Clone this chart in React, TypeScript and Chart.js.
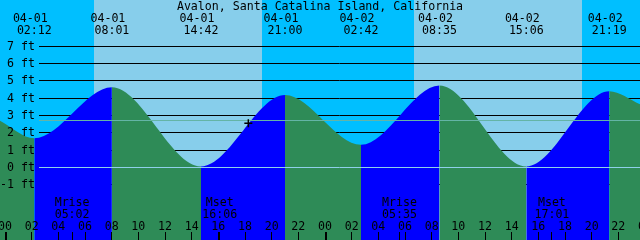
import React, { useEffect, useRef } from "react";
import { Chart, registerables } from "chart.js";

Chart.register(...registerables);

// ---------- data ----------
const TITLE = "Avalon, Santa Catalina Island, California";
const dayOffset: Record<string, number> = { "04-01": 0, "04-02": 24 };

const tideDates = ["04-01", "04-01", "04-01", "04-01", "04-02", "04-02", "04-02", "04-02"];
const tideClock = ["02:12", "08:01", "14:42", "21:00", "02:42", "08:35", "15:06", "21:19"];
const tideHeights = [1.68, 4.63, 0.05, 4.18, 1.3, 4.73, 0.05, 4.4];

// curve height at the left and right edges of the view (hours from 04-01 00:00)
const edgeHours = [-0.375, 47.625];
const edgeHeights = [2.7, 3.65];

const sunDates = ["04-01", "04-01", "04-02", "04-02"];
const sunClock = ["06:40", "19:17", "06:39", "19:17"];
const sunKinds = ["rise", "set", "rise", "set"];

const moonDates = ["04-01", "04-01", "04-02", "04-02"];
const moonClock = ["05:02", "16:06", "05:35", "17:01"];
const moonNames = ["Mrise", "Mset", "Mrise", "Mset"];

const markHours = [18.25];
const markHeights = [2.55];

const yTickValues = [7, 6, 5, 4, 3, 2, 1, 0, -1];
const yTickLabels = ["7 ft", "6 ft", "5 ft", "4 ft", "3 ft", "2 ft", "1 ft", "0 ft", "-1 ft"];
const datumLevel = 0;
const mslLevel = 2.7;

const hourTickValues = [0, 2, 4, 6, 8, 10, 12, 14, 16, 18, 20, 22, 24, 26, 28, 30, 32, 34, 36, 38, 40, 42, 44, 46, 48];
const hourTickLabels = ["00", "02", "04", "06", "08", "10", "12", "14", "16", "18", "20", "22", "00", "02", "04", "06", "08", "10", "12", "14", "16", "18", "20", "22", "00"];
const midnightHours = [0, 24, 48];

// ---------- styles ----------
const NIGHT = "#00BFFF";
const DAY = "#87CEEB";
const FLOOD = "#0000FF";
const EBB = "#2E8B57";
const DATUM_COLOR = "#8FD0EA";
const MSL_COLOR = "#64B4A6";
const FONT = '11.6px "DejaVu Sans Mono", monospace';

const toHours = (d: string, c: string) =>
  dayOffset[d] + parseInt(c.slice(0, 2), 10) + parseInt(c.slice(3, 5), 10) / 60;

const xtidePlugin = {
  id: "xtide",
  beforeDatasetsDraw(chart: any) {
    const { ctx, chartArea: a } = chart;
    const x = chart.scales.x;
    const y = chart.scales.y;
    const sunH = sunDates.map((d, i) => toHours(d, sunClock[i]));
    const edges = [x.min, ...sunH, x.max];
    ctx.save();
    for (let i = 0; i < edges.length - 1; i++) {
      let isDay: boolean;
      if (i === 0) isDay = sunKinds[0] !== "rise";
      else isDay = sunKinds[i - 1] === "rise";
      ctx.fillStyle = isDay ? DAY : NIGHT;
      const p0 = Math.round(x.getPixelForValue(edges[i]));
      const p1 = Math.round(x.getPixelForValue(edges[i + 1]));
      ctx.fillRect(p0, a.top, p1 - p0, a.bottom - a.top);
    }
    ctx.strokeStyle = "#000";
    ctx.lineWidth = 1;
    for (const v of yTickValues) {
      const py = Math.floor(y.getPixelForValue(v)) + 0.5;
      ctx.beginPath();
      ctx.moveTo(39, py);
      ctx.lineTo(a.right, py);
      ctx.stroke();
    }
    ctx.restore();
  },
  afterDatasetDraw(chart: any, args: any) {
    if (args.index !== 0) return;
    const { ctx, chartArea: a } = chart;
    const y = chart.scales.y;
    ctx.save();
    ctx.lineWidth = 1;
    const lines: [number, string][] = [
      [datumLevel, DATUM_COLOR],
      [mslLevel, MSL_COLOR],
    ];
    for (const [v, c] of lines) {
      const py = Math.floor(y.getPixelForValue(v)) + 0.5;
      ctx.strokeStyle = c;
      ctx.beginPath();
      ctx.moveTo(39, py);
      ctx.lineTo(a.right, py);
      ctx.stroke();
    }
    ctx.restore();
  },
  afterDraw(chart: any) {
    const { ctx, chartArea: a } = chart;
    const x = chart.scales.x;
    const y = chart.scales.y;
    ctx.save();
    ctx.font = FONT;
    ctx.fillStyle = "#000";
    ctx.textBaseline = "alphabetic";

    // title
    ctx.textAlign = "center";
    ctx.fillText(TITLE, (a.left + a.right) / 2, 10);

    // tide event labels
    tideDates.forEach((d, i) => {
      const px = x.getPixelForValue(toHours(d, tideClock[i]));
      ctx.fillText(d, px - 4, 22);
      ctx.fillText(tideClock[i], px, 34);
    });

    // y labels
    ctx.textAlign = "right";
    yTickValues.forEach((v, i) => {
      const py = Math.floor(y.getPixelForValue(v));
      ctx.fillText(yTickLabels[i], 35, py + 4);
    });

    // hour labels and ticks
    ctx.textAlign = "center";
    hourTickValues.forEach((h, i) => {
      const px = x.getPixelForValue(h);
      ctx.fillText(hourTickLabels[i], px, 230);
      ctx.fillRect(Math.floor(px), 232, 1, a.bottom - 232);
    });
    midnightHours.forEach((h) => {
      const px = Math.round(x.getPixelForValue(h));
      ctx.fillRect(px, 232, 2, a.bottom - 232);
    });

    // moon events
    moonDates.forEach((d, i) => {
      const px = x.getPixelForValue(toHours(d, moonClock[i]));
      ctx.fillText(moonNames[i], px, 206);
      ctx.fillText(moonClock[i], px, 218);
      ctx.fillRect(Math.floor(px), 232, 1, a.bottom - 232);
    });
    ctx.restore();
  },
};

export default function App() {
  const ref = useRef<HTMLCanvasElement | null>(null);

  useEffect(() => {
    document.body.style.margin = "0";
    document.body.style.overflow = "hidden";
    const canvas = ref.current;
    if (!canvas) return;

    const tidePoints = [
      { x: edgeHours[0], y: edgeHeights[0] },
      ...tideDates.map((d, i) => ({ x: toHours(d, tideClock[i]), y: tideHeights[i] })),
      { x: edgeHours[1], y: edgeHeights[1] },
    ];
    const markPoints = markHours.map((h, i) => ({ x: h, y: markHeights[i] }));

    const pxPerFt = 121 / 7;
    const yMax = 167.3 / pxPerFt;
    const yMin = yMax - 240 / pxPerFt;

    const chart = new Chart(canvas, {
      type: "line",
      data: {
        datasets: [
          {
            data: tidePoints,
            order: 2,
            fill: "start",
            borderWidth: 0,
            borderColor: "rgba(0,0,0,0)",
            backgroundColor: EBB,
            pointRadius: 0,
            cubicInterpolationMode: "monotone",
            segment: {
              backgroundColor: (c: any) => (c.p1.parsed.y > c.p0.parsed.y ? FLOOD : EBB),
            },
          } as any,
          {
            data: markPoints,
            order: 1,
            showLine: false,
            pointStyle: "cross",
            pointRadius: 4,
            pointBorderWidth: 1.5,
            pointBorderColor: "#000",
            pointBackgroundColor: "#000",
          } as any,
        ],
      },
      options: {
        responsive: false,
        animation: false,
        devicePixelRatio: 1,
        layout: { padding: 0, autoPadding: false },
        events: [],
        scales: {
          x: { type: "linear", min: edgeHours[0], max: edgeHours[1], display: false },
          y: { type: "linear", min: yMin, max: yMax, display: false },
        },
        plugins: {
          legend: { display: false },
          tooltip: { enabled: false },
        },
      },
      plugins: [xtidePlugin],
    });

    return () => chart.destroy();
  }, []);

  return (
    <div style={{ position: "fixed", left: 0, top: 0, width: 640, height: 240 }}>
      <canvas
        ref={ref}
        width={640}
        height={240}
        style={{ display: "block", width: 640, height: 240 }}
      />
    </div>
  );
}
